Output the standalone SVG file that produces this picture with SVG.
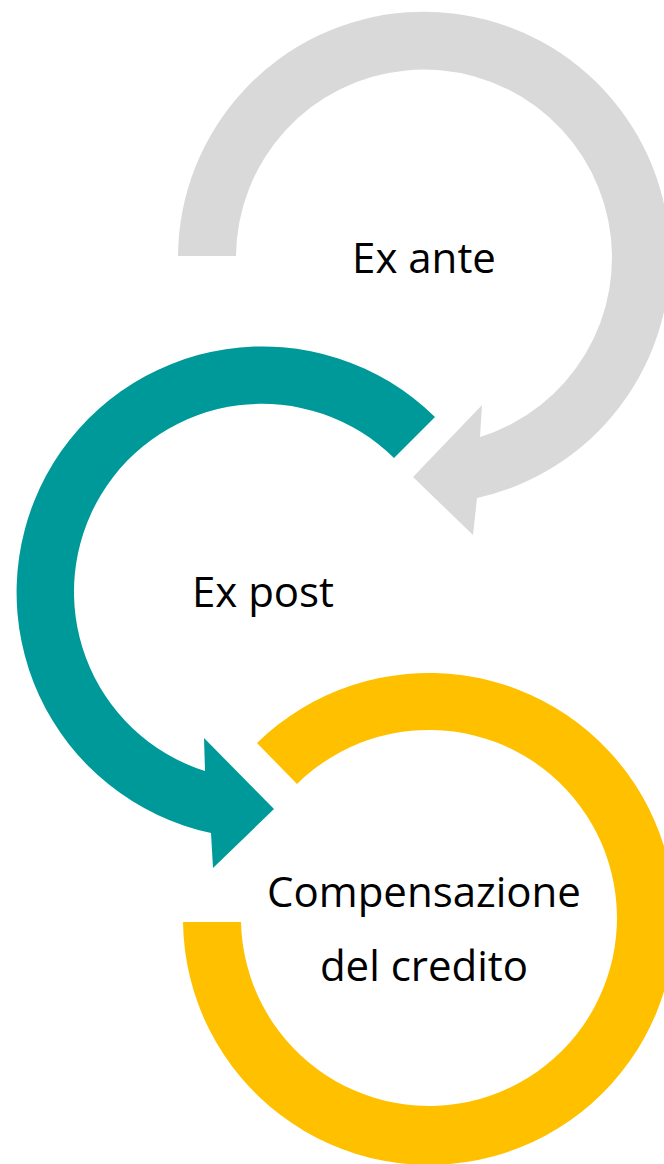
<svg xmlns="http://www.w3.org/2000/svg" width="664" height="1164" viewBox="0 0 664 1164">
  <style>
    .lbl { font-family: "Open Sans", "Noto Sans", "Liberation Sans", sans-serif; font-size: 42px; fill: #000000; text-anchor: middle; }
    .gray { fill: #D9D9D9; }
    .teal { fill: #009999; }
    .yellow { fill: #FFC000; }
  </style>
  <rect width="664" height="1164" fill="#FFFFFF"/>
  <g id="node-ex-ante">
    <path class="gray" d="M178,256 A246,246 0 1 1 477,498 L473,535 L413,477 L482,405 L480,437 A188,188 0 1 0 236,256 Z"/>
    <text class="lbl" x="424" y="273">Ex ante</text>
  </g>
  <g id="node-ex-post">
    <path class="teal" d="M435,417 A246,246 0 1 0 211,833 L213,868 L274,809 L204,738 L205,771 A188,188 0 1 1 394,458 Z"/>
    <text class="lbl" x="263" y="607">Ex post</text>
  </g>
  <g id="node-compensazione">
    <path class="yellow" d="M257,743 A246,246 0 1 1 183,922 L241,922 A188,188 0 1 0 297,784 Z"/>
    <text class="lbl" x="424" y="907">Compensazione</text>
    <text class="lbl" x="424" y="981">del credito</text>
  </g>
</svg>
